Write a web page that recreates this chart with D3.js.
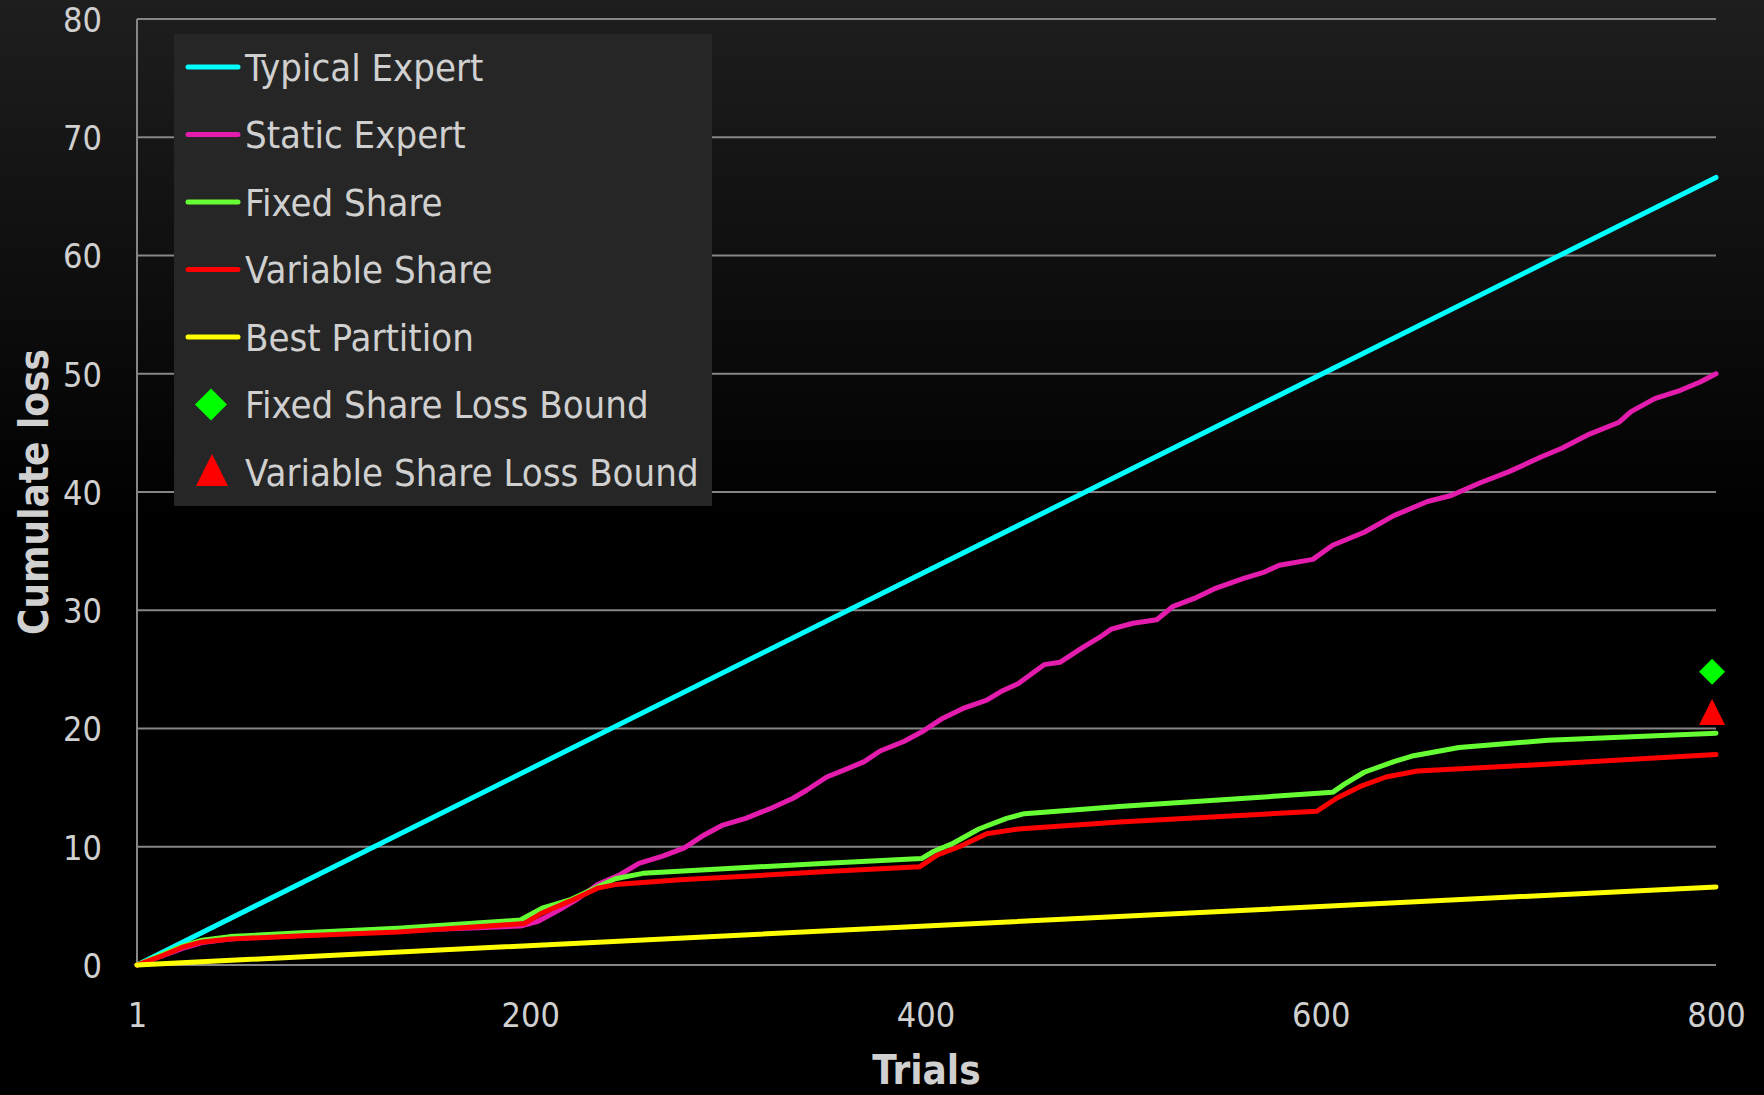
<script src="https://d3js.org/d3.v7.min.js"></script>
<body style="margin:0; background:#000;">
    <div id="chart"></div>
</body>
<style>
text {
  font-family: 'DejaVu Sans Condensed', 'Liberation Sans Narrow', 'Liberation Sans', sans-serif;
  fill: #d0d0d0;
}
.grid line {
  stroke: #868686;
  stroke-width: 2px;
}
.series {
  fill: none;
  stroke-width: 5px;
  stroke-linejoin: round;
  stroke-linecap: round;
}
</style>

<script>
// x ticks and y ticks
var xTicks = [1, 200, 400, 600, 800];
var yTicks = [0, 10, 20, 30, 40, 50, 60, 70, 80];

// [trial, cumulative loss]
var typicalExpert = [[1, 0], [800, 66.6]];

var staticExpert = [[1, 0], [14, 0.8], [24, 1.4], [34, 1.9], [48, 2.2], [82, 2.5], [133, 2.9], [195, 3.3],
  [204, 3.7], [214, 4.6], [224, 5.6], [234, 6.8], [245, 7.6], [255, 8.6], [267, 9.2], [278, 9.9],
  [288, 11.0], [297, 11.8], [309, 12.4], [321, 13.2], [333, 14.1], [340, 14.8], [350, 15.9], [359, 16.5],
  [369, 17.2], [377, 18.1], [389, 18.9], [398, 19.7], [408, 20.8], [419, 21.7], [431, 22.4], [439, 23.2],
  [447, 23.8], [460, 25.4], [468, 25.6], [480, 26.9], [488, 27.7], [494, 28.4], [505, 28.9], [517, 29.2],
  [525, 30.3], [536, 31.0], [546, 31.8], [561, 32.7], [571, 33.2], [579, 33.8], [596, 34.3], [606, 35.5],
  [622, 36.6], [637, 38.0], [654, 39.2], [666, 39.7], [681, 40.8], [695, 41.7], [712, 43.0], [722, 43.7],
  [736, 44.9], [751, 45.9], [757, 46.8], [769, 47.9], [782, 48.6], [792, 49.3], [800, 50.0]];

var fixedShare = [[1, 0], [14, 0.9], [24, 1.6], [34, 2.1], [48, 2.4], [82, 2.7], [133, 3.1], [195, 3.8],
  [206, 4.8], [220, 5.5], [234, 6.6], [243, 7.3], [257, 7.75], [282, 8.0], [350, 8.6], [398, 9.0],
  [404, 9.6], [414, 10.3], [427, 11.5], [441, 12.4], [450, 12.8], [498, 13.4], [606, 14.6], [612, 15.3],
  [622, 16.3], [637, 17.2], [647, 17.7], [670, 18.4], [715, 19.0], [800, 19.6]];

var variableShare = [[1, 0], [14, 0.8], [24, 1.5], [34, 1.95], [48, 2.2], [82, 2.45], [133, 2.8], [197, 3.5],
  [206, 4.4], [220, 5.4], [234, 6.5], [243, 6.8], [276, 7.2], [350, 7.9], [397, 8.3], [406, 9.3],
  [417, 10.0], [431, 11.1], [447, 11.5], [498, 12.1], [598, 13.0], [608, 14.1], [620, 15.1], [633, 15.9],
  [649, 16.4], [695, 16.8], [800, 17.8]];

var bestPartition = [[1, 0], [800, 6.6]];

var fixedBound = [[798, 24.8]];
var variableBound = [[798, 21.4]];

var legendNames = ["Typical Expert", "Static Expert", "Fixed Share", "Variable Share", "Best Partition",
  "Fixed Share Loss Bound", "Variable Share Loss Bound"];
var legendColors = ["#00ffff", "#e31cae", "#66ff33", "#ff0000", "#ffff00", "#00ff00", "#ff0000"];

var width = 1764, height = 1095;
var margin = {top: 19, right: 48, bottom: 130, left: 137};

var svg = d3.select("#chart").append("svg")
  .attr("width", width)
  .attr("height", height);

// background fades from dark gray to black
var grad = svg.append("defs").append("linearGradient")
  .attr("id", "bg")
  .attr("x1", 0).attr("y1", 0).attr("x2", 0).attr("y2", 1);
grad.append("stop").attr("offset", "0%").attr("stop-color", "#1e1e1e");
grad.append("stop").attr("offset", "48%").attr("stop-color", "#000");

svg.append("rect")
  .attr("width", width)
  .attr("height", height)
  .attr("fill", "url(#bg)");

var x = d3.scaleLinear().domain([1, 800]).range([margin.left, width - margin.right]);
var y = d3.scaleLinear().domain([0, 80]).range([height - margin.bottom, margin.top]);

// gridlines
svg.append("g")
  .attr("class", "grid")
  .selectAll("line")
  .data(yTicks)
  .enter().append("line")
  .attr("x1", x(1))
  .attr("x2", x(800))
  .attr("y1", function(d) { return y(d); })
  .attr("y2", function(d) { return y(d); });

svg.append("line")
  .attr("x1", x(1)).attr("x2", x(1))
  .attr("y1", y(0)).attr("y2", y(80))
  .attr("stroke", "#868686")
  .attr("stroke-width", 2);

// y axis labels
var yAxis = svg.append("g")
  .attr("transform", "translate(" + x(1) + ",0)")
  .call(d3.axisLeft(y).tickValues(yTicks).tickSize(0).tickPadding(35));
yAxis.select(".domain").remove();
yAxis.selectAll("text")
  .attr("font-size", 34)
  .attr("fill", "#d0d0d0")
  .attr("dy", "0.36em");

// x axis labels
var xAxis = svg.append("g")
  .attr("transform", "translate(0," + y(0) + ")")
  .call(d3.axisBottom(x).tickValues(xTicks).tickFormat(d3.format("d")).tickSize(0));
xAxis.select(".domain").remove();
xAxis.selectAll("text")
  .attr("font-size", 34)
  .attr("fill", "#d0d0d0")
  .attr("y", 50)
  .attr("dy", "0.36em");

// axis titles
svg.append("text")
  .attr("x", (x(1) + x(800)) / 2)
  .attr("y", 1084)
  .attr("text-anchor", "middle")
  .attr("font-size", 40)
  .attr("font-weight", "bold")
  .attr("fill", "#bfbfbf")
  .text("Trials");

svg.append("text")
  .attr("transform", "translate(48," + y(40) + ") rotate(-90)")
  .attr("text-anchor", "middle")
  .attr("font-size", 40)
  .attr("font-weight", "bold")
  .attr("fill", "#bfbfbf")
  .text("Cumulate loss");

// legend box sits over the gridlines
var legend = svg.append("g");
legend.append("rect")
  .attr("x", 174)
  .attr("y", 34)
  .attr("width", 538)
  .attr("height", 472)
  .attr("fill", "#262626");

var line = d3.line()
  .x(function(d) { return x(d[0]); })
  .y(function(d) { return y(d[1]); });

var seriesData = [typicalExpert, staticExpert, fixedShare, variableShare, bestPartition];

svg.append("g")
  .selectAll("path")
  .data(seriesData)
  .enter().append("path")
  .attr("class", "series")
  .attr("stroke", function(d, i) { return legendColors[i]; })
  .attr("d", line);

// marker shapes, size is the half width
var diamondType = {draw: function(ctx, s) {
  ctx.moveTo(0, -s); ctx.lineTo(s, 0); ctx.lineTo(0, s); ctx.lineTo(-s, 0); ctx.closePath();
}};
var triangleType = {draw: function(ctx, s) {
  ctx.moveTo(0, -s); ctx.lineTo(s, s); ctx.lineTo(-s, s); ctx.closePath();
}};

svg.append("g")
  .selectAll("path")
  .data(fixedBound)
  .enter().append("path")
  .attr("d", d3.symbol().type(diamondType).size(13))
  .attr("fill", "#00ff00")
  .attr("transform", function(d) { return "translate(" + x(d[0]) + "," + y(d[1]) + ")"; });

svg.append("g")
  .selectAll("path")
  .data(variableBound)
  .enter().append("path")
  .attr("d", d3.symbol().type(triangleType).size(13))
  .attr("fill", "#ff0000")
  .attr("transform", function(d) { return "translate(" + x(d[0]) + "," + y(d[1]) + ")"; });

// legend entries
var entries = legend.selectAll(".entry")
  .data(legendNames)
  .enter().append("g")
  .attr("class", "entry")
  .attr("transform", function(d, i) { return "translate(0," + (67 + i * 67.5) + ")"; });

entries.filter(function(d, i) { return i < 5; })
  .append("line")
  .attr("x1", 188).attr("x2", 238)
  .attr("stroke", function(d, i) { return legendColors[i]; })
  .attr("stroke-width", 5)
  .attr("stroke-linecap", "round");

entries.filter(function(d, i) { return i == 5; })
  .append("path")
  .attr("d", d3.symbol().type(diamondType).size(16))
  .attr("fill", "#00ff00")
  .attr("transform", "translate(211,0)");

entries.filter(function(d, i) { return i == 6; })
  .append("path")
  .attr("d", d3.symbol().type(triangleType).size(16))
  .attr("fill", "#ff0000")
  .attr("transform", "translate(212,-2)");

entries.append("text")
  .attr("x", 245)
  .attr("dy", "0.36em")
  .attr("font-size", 38)
  .attr("fill", "#d0d0d0")
  .text(function(d) { return d; });
</script>
